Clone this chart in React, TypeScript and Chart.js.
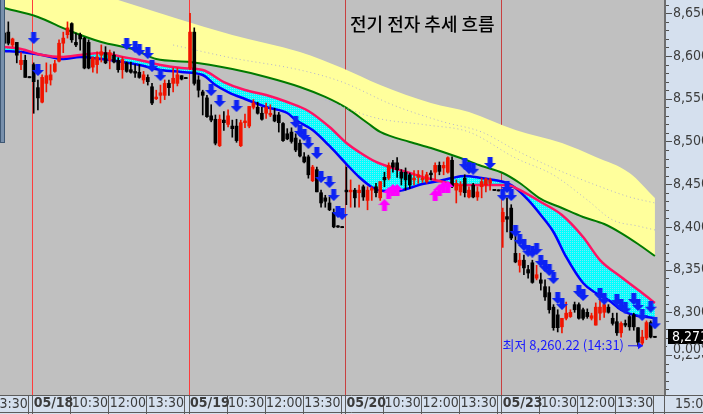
import React, { useEffect, useRef } from 'react';
import { Chart, registerables } from 'chart.js';

Chart.register(...registerables);

// ---------- text ----------
const TITLE = '전기 전자 추세 흐름';
const LOW_LABEL = '최저';
const LOW_TIME = '14:31';
const CURRENT_TIME = '15:01';
const CHANGE_PCT = '0.00%';

// ---------- categories ----------
const DAYS = ['05/17', '05/18', '05/19', '05/20', '05/23'];
const SESSION = ['09:00', '09:10', '09:20', '09:30', '09:40', '09:50', '10:00', '10:10', '10:20', '10:30', '10:40', '10:50',
  '11:00', '11:10', '11:20', '11:30', '11:40', '11:50', '12:00', '12:10', '12:20', '12:30', '12:40', '12:50',
  '13:00', '13:10', '13:20', '13:30', '13:40', '13:50', '14:00', '14:10', '14:20', '14:30', '14:40', '14:50', '15:00'];
const FIRST_DAY_BARS = 7;
const TIME_TICKS = ['10:30', '12:00', '13:30'];

// ---------- candles (10 min) ----------
const OPEN = [
  8627, 8628, 8613, 8616, 8590, 8595, 8575.5, 8590, 8563, 8546,
  8568, 8572, 8582, 8594, 8615, 8625, 8638, 8616, 8625, 8621,
  8616, 8587, 8590, 8601, 8604, 8595, 8601, 8595, 8584, 8592,
  8584, 8582, 8581, 8572, 8575, 8564, 8550, 8554, 8554, 8568,
  8568, 8568, 8577, 8574.5, 8586, 8628, 8572, 8558, 8551, 8530,
  8526, 8495, 8525, 8520, 8518, 8518, 8495, 8522, 8518, 8540,
  8540, 8533, 8533, 8531, 8531, 8531, 8521, 8509, 8511, 8504,
  8498, 8482, 8482, 8454, 8467, 8440, 8434, 8428, 8417, 8401,
  8400, 8443, 8441, 8443, 8440, 8447, 8431, 8443, 8447, 8434,
  8458, 8457, 8475, 8475, 8464, 8464, 8461, 8455, 8458, 8455,
  8453, 8463, 8464, 8472, 8469, 8464, 8478, 8443, 8441, 8457,
  8435, 8449, 8435, 8447, 8449, 8451, 8443.5, 8443, 8406, 8412,
  8422, 8369, 8355, 8361, 8350, 8358, 8340, 8338, 8330, 8323,
  8306, 8297, 8283, 8293, 8295, 8309, 8309, 8303, 8300, 8293,
  8285, 8299, 8300, 8306, 8293, 8289, 8276, 8287, 8295, 8297,
  8282, 8264, 8270, 8288, 8271.5,
];
const HIGH = [
  8632, 8640, 8621, 8616, 8604, 8601, 8576, 8592, 8572, 8578,
  8592, 8590, 8595, 8619, 8628, 8640, 8639, 8627, 8627, 8622,
  8619, 8599, 8605, 8613, 8611, 8607, 8605, 8598, 8599, 8593,
  8593, 8590, 8590, 8582, 8578, 8568, 8560, 8566, 8572, 8572,
  8586, 8586, 8577, 8575, 8650, 8633, 8577, 8560, 8554, 8543,
  8531, 8531, 8535, 8537, 8525, 8526, 8525, 8532, 8541, 8549,
  8546, 8540, 8545, 8543, 8539, 8534, 8522, 8515, 8516, 8509,
  8502, 8487, 8484, 8472, 8470, 8443, 8437, 8435, 8421, 8401.5,
  8400.5, 8470, 8455, 8445, 8449, 8449, 8447, 8447, 8451, 8453,
  8464, 8475, 8478, 8481, 8467, 8469, 8463, 8466, 8466, 8466,
  8464, 8466, 8475, 8476, 8476, 8482, 8482, 8455, 8453, 8461,
  8447, 8451, 8447, 8457, 8457, 8457, 8444, 8443.5, 8422, 8434,
  8426, 8390, 8369, 8367, 8355, 8361, 8355, 8346, 8338, 8330,
  8309, 8303, 8293, 8312, 8303, 8312, 8311, 8305, 8304, 8299,
  8311, 8314, 8312, 8309, 8299, 8299, 8289, 8291, 8297, 8299,
  8282, 8279, 8290, 8290, 8272,
];
const LOW = [
  8613, 8613, 8611, 8592, 8584, 8575, 8574.5, 8533, 8537, 8545,
  8558, 8566, 8581, 8593, 8604, 8621, 8616, 8611, 8607, 8585,
  8585, 8581, 8580, 8593, 8591, 8585, 8592, 8581, 8574, 8581,
  8580, 8575, 8574, 8568, 8566, 8543, 8549, 8545, 8549, 8554,
  8558, 8565, 8572, 8574, 8584, 8566, 8552, 8531, 8528, 8523,
  8496, 8494, 8513, 8517, 8505, 8499, 8494, 8516, 8516, 8538,
  8532, 8525, 8527, 8529, 8523, 8511, 8500, 8502, 8498, 8488,
  8482, 8475, 8457, 8453, 8441, 8423, 8423, 8419, 8399, 8399.5,
  8399, 8426, 8423, 8423, 8423, 8431, 8420, 8431, 8435, 8431,
  8447, 8455, 8464, 8458, 8449, 8443, 8445, 8449, 8451, 8452,
  8451, 8455, 8455, 8461, 8461, 8463, 8446, 8428, 8437, 8435,
  8434, 8434, 8431, 8434, 8441, 8443, 8442.5, 8442, 8376, 8394,
  8385, 8358, 8347, 8344, 8340, 8334, 8338, 8326, 8314, 8299,
  8279, 8277, 8276, 8291, 8294, 8300, 8292, 8291, 8293, 8291,
  8285, 8291, 8294, 8299, 8285, 8273, 8271, 8283, 8279, 8279,
  8260.22, 8262, 8268, 8270, 8270.5,
];
const CLOSE = [
  8615, 8615, 8620, 8601, 8595, 8575, 8575, 8570, 8551, 8575,
  8577, 8578, 8591, 8615, 8621, 8633, 8619, 8613, 8620, 8586,
  8586, 8598, 8599, 8605, 8592, 8604, 8593, 8584, 8596, 8582,
  8581, 8580, 8575, 8578, 8570, 8545, 8552, 8557, 8568, 8563,
  8574, 8578, 8573, 8574, 8628, 8568, 8560, 8554, 8529, 8525,
  8498, 8526, 8522, 8530, 8515, 8501, 8522, 8524, 8541, 8545,
  8533, 8526, 8540, 8533, 8524, 8522, 8501, 8503, 8500, 8490,
  8483, 8476, 8461, 8470, 8441, 8428, 8430, 8420, 8400, 8400,
  8399.5, 8441, 8443, 8434, 8443, 8435, 8443, 8445, 8440, 8453,
  8455, 8472, 8470, 8467, 8457, 8455, 8449, 8457, 8461, 8457,
  8461, 8461, 8472, 8465, 8472, 8481, 8447, 8451, 8449, 8440,
  8443, 8435, 8441, 8453, 8456, 8455, 8443, 8442.5, 8417, 8409,
  8387, 8359, 8361, 8352, 8346, 8335, 8344, 8334, 8318, 8303,
  8282, 8282, 8293, 8299, 8300, 8303, 8293, 8293, 8295, 8296,
  8306, 8306, 8309, 8300, 8287, 8276, 8287, 8285, 8283, 8283,
  8265, 8271, 8288, 8271, 8271.05,
];

// ---------- moving averages  [bar index, value] ----------
const PINK_MA = [
  [0, 8610.6], [4, 8608.2], [9, 8601.2], [14, 8598.9], [18, 8601.2], [23, 8603.6], [28, 8598.9], [32, 8595.4],
  [37, 8589.5], [42, 8586.0], [47, 8583.7], [52, 8569.6], [57, 8560.2], [62, 8554.4], [67, 8546.2], [72, 8535.7],
  [77, 8516.9], [81, 8498.2], [84, 8487.7], [88, 8476.0], [92, 8468.9], [96, 8463.1], [100, 8457.2], [104, 8452.6],
  [108, 8449.0], [113, 8449.0], [118, 8449.0], [120, 8447.9], [122, 8443.2], [127, 8429.1], [132, 8413.9],
  [137, 8388.2], [141, 8361.2], [146, 8341.4], [151, 8322.6], [154, 8310.9],
];
const BLUE_MA = [
  [0, 8605.9], [4, 8604.7], [9, 8601.2], [14, 8596.5], [18, 8598.9], [23, 8596.5], [28, 8593.0], [32, 8589.5],
  [37, 8583.7], [42, 8581.3], [47, 8577.8], [50, 8566.1], [53, 8557.9], [57, 8549.7], [62, 8540.3], [67, 8533.3],
  [69, 8525.1], [73, 8513.4], [77, 8494.7], [81, 8473.6], [84, 8458.4], [87, 8446.7], [90, 8442.0], [93, 8442.0],
  [96, 8445.5], [99, 8450.2], [103, 8453.7], [106, 8457.2], [109, 8459.6], [113, 8457.2], [116, 8454.9],
  [119, 8451.4], [121, 8445.5], [124, 8431.5], [127, 8413.9], [130, 8394.0], [133, 8364.8], [137, 8334.3],
  [140, 8322.6], [143, 8314.4], [146, 8302.7], [149, 8296.9], [152, 8294.5], [154, 8293.4],
];
const GREEN_MA = [
  [0, 8656.2], [8, 8645.7], [15, 8630.5], [23, 8616.4], [31, 8607.1], [36, 8596.5], [44, 8593.0], [54, 8584.8],
  [62, 8575.5], [70, 8563.8], [76, 8552.1], [81, 8539.2], [86, 8521.6], [89, 8511.1], [96, 8499.4], [101, 8492.4],
  [108, 8480.6], [113, 8471.3], [118, 8463.1], [122, 8451.4], [127, 8432.7], [132, 8422.1], [137, 8411.6],
  [142, 8403.4], [146, 8392.8], [150, 8380.0], [154, 8365.9],
];
const BAND_TOP = [
  [0, 8706.6], [27, 8665.6], [54, 8624.6], [70, 8604.7], [80, 8586.0], [89, 8566.1], [101, 8545.0], [110, 8534.5],
  [121, 8513.4], [132, 8498.2], [140, 8481.8], [148, 8463.1], [154, 8433.8],
];
const DOT_MA1 = [
  [40, 8612.9], [54, 8597.7], [70, 8583.7], [80, 8569.6], [92, 8542.7], [104, 8522.8], [113, 8511.1],
  [121, 8490.0], [130, 8468.9], [140, 8449.0], [148, 8435.0], [154, 8428.0],
];
const DOT_MA2 = [
  [76, 8548.5], [88, 8527.5], [100, 8519.3], [110, 8511.1], [121, 8480.6], [130, 8460.7], [138, 8431.5],
  [144, 8408.1], [150, 8401.0], [154, 8396.4],
];

// ---------- signals [bar index, price] ----------
const SELL_SIGNALS = [
  [7, 8621.1], [8, 8583.7], [29, 8614.1], [31, 8610.6], [32, 8607.1], [34, 8603.6], [35, 8588.3], [37, 8577.8],
  [49, 8560.2], [51, 8547.4], [55, 8541.5],
  [69, 8522.8], [70, 8512.3], [71, 8507.6], [72, 8498.2], [74, 8486.5], [75, 8458.4], [77, 8452.6], [78, 8437.3],
  [79, 8417.4], [80, 8415.1],
  [109, 8473.6], [110, 8468.9], [111, 8468.0], [115, 8474.8],
  [118, 8437.3], [119, 8446.7], [120, 8437.3], [121, 8395.2], [122, 8384.7], [123, 8378.8], [124, 8372.0],
  [125, 8371.0], [126, 8374.1], [127, 8360.1], [128, 8354.2], [129, 8349.5], [130, 8340.2], [131, 8316.8],
  [132, 8309.7], [136, 8325.0], [137, 8320.3], [141, 8321.4], [142, 8315.6], [145, 8314.4], [146, 8308.6],
  [147, 8304.7], [149, 8315.6], [150, 8308.6], [151, 8296.9], [153, 8306.6], [154, 8287.1],
];
const BUY_SIGNALS = [
  [90, 8425.6], [91, 8439.7], [92, 8443.2], [93, 8443.2], [102, 8437.3], [103, 8443.2], [104, 8446.7], [105, 8446.7],
];

const Y_MIN = 8203.2;
const Y_MAX = 8665.6;
const X_MIN = -0.97;
const X_MAX = 156.15;

// ---------- styles ----------
const NARROW = '"Liberation Sans Narrow", "Arial Narrow", "DejaVu Sans Condensed", sans-serif';
const NARROW_KR = '"Liberation Sans Narrow", "Noto Sans CJK KR", sans-serif';
const KR = '"Noto Sans CJK KR", "Noto Sans", sans-serif';
const PLOT_BG = '#c0c0c0';
const AXIS_BG = '#d5e0ee';
const BOX_LINE = '#5c5c5c';
const TEXT = '#3c3c3c';
const UP = '#f01400';
const DOWN = '#000000';

// ---------- derived tables ----------
const LABELS: string[] = [];
DAYS.forEach((d, k) => {
  const times = k === 0 ? SESSION.slice(SESSION.length - FIRST_DAY_BARS) : SESSION;
  times.forEach((t) => LABELS.push(d + ' ' + t));
});
const dayStart = (k: number) => FIRST_DAY_BARS - SESSION.length + k * SESSION.length;
const TICKS: number[] = [];
const OFF_TICKS: number[] = [];
DAYS.forEach((_, k) => {
  [SESSION[0], ...TIME_TICKS, SESSION[SESSION.length - 1]].forEach((t) => {
    const i = dayStart(k) + SESSION.indexOf(t);
    if (i >= 0 && i < LABELS.length) TICKS.push(i);
    else if (i < 0 && i > -6) OFF_TICKS.push(i);
  });
});
const DAY_STARTS = DAYS.map((_, k) => dayStart(k)).filter((i) => i >= 0);

function tickText(i: number): string {
  const l = LABELS[i];
  if (l) {
    const [d, t] = l.split(' ');
    if (t === SESSION[0]) return d;
    if (TIME_TICKS.includes(t)) return t;
    return '';
  }
  const t = SESSION[i - dayStart(0)];
  return t && TIME_TICKS.includes(t) ? t : '';
}
function isDayTick(i: number) {
  const l = LABELS[i];
  return !!l && l.split(' ')[1] === SESSION[0];
}
const fmt2 = (v: number) => v.toLocaleString('en-US', { minimumFractionDigits: 2, maximumFractionDigits: 2 });
const pts = (arr: number[][]) => arr.map(([x, y]) => ({ x, y }));

function makeArrow(color: string, down: boolean) {
  const c = document.createElement('canvas');
  c.width = 12;
  c.height = 12;
  const g = c.getContext('2d')!;
  g.fillStyle = color;
  g.beginPath();
  const shape = [[3.5, 0], [8.5, 0], [8.5, 6], [12, 6], [6, 12], [0, 6], [3.5, 6]];
  shape.forEach(([x, y], k) => {
    const yy = down ? y : 12 - y;
    if (k) g.lineTo(x, yy);
    else g.moveTo(x, yy);
  });
  g.closePath();
  g.fill();
  return c;
}
function makeDither(a: string, b: string) {
  const c = document.createElement('canvas');
  c.width = 2;
  c.height = 2;
  const g = c.getContext('2d')!;
  g.fillStyle = a;
  g.fillRect(0, 0, 2, 2);
  g.fillStyle = b;
  g.fillRect(0, 0, 1, 1);
  return g.createPattern(c, 'repeat')!;
}

function vline(ctx: any, x: number, top: number, bottom: number, color: string) {
  ctx.strokeStyle = color;
  ctx.lineWidth = 1;
  ctx.beginPath();
  ctx.moveTo(x, top);
  ctx.lineTo(x, bottom);
  ctx.stroke();
}

const decor = {
  id: 'decor',
  beforeDraw(chart: any) {
    const { ctx, chartArea: a, width: W, height: H } = chart;
    const xs = chart.scales.x;
    const ys = chart.scales.y;
    ctx.save();
    ctx.fillStyle = AXIS_BG;
    ctx.fillRect(0, 0, W, H);
    ctx.fillStyle = PLOT_BG;
    ctx.fillRect(a.left, a.top, a.right - a.left, a.bottom - a.top);
    // bottom time band
    ctx.strokeStyle = BOX_LINE;
    ctx.lineWidth = 1;
    ctx.beginPath();
    ctx.moveTo(0, a.bottom + 0.5);
    ctx.lineTo(W, a.bottom + 0.5);
    ctx.moveTo(0, H - 1.5);
    ctx.lineTo(W, H - 1.5);
    [...OFF_TICKS, ...TICKS].forEach((i) => {
      const x = Math.round(xs.getPixelForValue(i) - 1.5) + 0.5;
      ctx.moveTo(x, a.bottom);
      ctx.lineTo(x, H);
    });
    ctx.moveTo(a.right + 0.5, a.bottom);
    ctx.lineTo(a.right + 0.5, H);
    ctx.stroke();
    // right axis line + ticks
    ctx.strokeStyle = '#6e6e6e';
    ctx.lineWidth = 2;
    ctx.beginPath();
    ctx.moveTo(a.right + 1, 0);
    ctx.lineTo(a.right + 1, a.bottom);
    ctx.stroke();
    ctx.lineWidth = 1;
    ctx.strokeStyle = '#505050';
    ctx.beginPath();
    ys.ticks.forEach((t: any) => {
      const y = Math.round(ys.getPixelForValue(t.value)) + 0.5;
      const major = Math.abs(t.value / 50 - Math.round(t.value / 50)) < 1e-6;
      ctx.moveTo(a.right + 2, y);
      ctx.lineTo(a.right + (major ? 8 : 5), y);
    });
    ctx.stroke();
    ctx.restore();
  },
  beforeDatasetsDraw(chart: any) {
    const { ctx, chartArea: a } = chart;
    const xs = chart.scales.x;
    ctx.save();
    DAY_STARTS.slice(2).forEach((i) => {
      vline(ctx, Math.round(xs.getPixelForValue(i) - 1.5) + 0.5, a.top, a.bottom, '#c84040');
    });
    ctx.restore();
  },
  afterDatasetDraw(chart: any, args: any) {
    if (args.index !== 0) return;
    const { ctx, chartArea: a } = chart;
    const xs = chart.scales.x;
    ctx.save();
    DAY_STARTS.slice(0, 2).forEach((i) => {
      vline(ctx, Math.round(xs.getPixelForValue(i) - 1.5) + 0.5, a.top, a.bottom, '#ff3c3c');
    });
    ctx.restore();
  },
  afterDraw(chart: any) {
    const { ctx, chartArea: a, width: W } = chart;
    const xs = chart.scales.x;
    const ys = chart.scales.y;
    ctx.save();
    // side handle
    ctx.fillStyle = '#7890ac';
    ctx.fillRect(0, 0, 5, 143);
    ctx.strokeStyle = '#3f5874';
    ctx.lineWidth = 1;
    ctx.strokeRect(0.5, -1, 4, 143.5);
    // title
    ctx.fillStyle = '#000';
    ctx.font = '500 18px ' + KR;
    ctx.textBaseline = 'middle';
    ctx.textAlign = 'left';
    ctx.fillText(TITLE, 350, 24);
    // off-screen time label
    ctx.fillStyle = TEXT;
    ctx.font = '14px ' + NARROW;
    OFF_TICKS.forEach((i) => {
      const t = tickText(i);
      if (t) ctx.fillText(t, xs.getPixelForValue(i), a.bottom + 9);
    });
    // current time
    ctx.fillText(CURRENT_TIME, a.right + 11, a.bottom + 9);
    // low annotation
    const lowVal = Math.min(...LOW);
    const lowIdx = LOW.indexOf(lowVal);
    const tipX = xs.getPixelForValue(lowIdx) + 5;
    const ty = ys.getPixelForValue(lowVal) - 1;
    ctx.strokeStyle = '#1a1aff';
    ctx.fillStyle = '#1a1aff';
    ctx.lineWidth = 1;
    ctx.beginPath();
    ctx.moveTo(tipX - 15, ty + 0.5);
    ctx.lineTo(tipX, ty + 0.5);
    ctx.stroke();
    ctx.beginPath();
    ctx.moveTo(tipX, ty + 0.5);
    ctx.lineTo(tipX - 5, ty - 3);
    ctx.lineTo(tipX - 5, ty + 4);
    ctx.closePath();
    ctx.fill();
    ctx.font = '13px ' + NARROW_KR;
    ctx.textAlign = 'right';
    ctx.fillText(LOW_LABEL + ' ' + fmt2(lowVal) + ' (' + LOW_TIME + ')', tipX - 19, ty);
    // last price box
    const last = CLOSE[CLOSE.length - 1];
    const py = ys.getPixelForValue(last);
    ctx.fillStyle = '#000';
    ctx.fillRect(a.right + 4, py - 8, W - a.right - 4, 15);
    ctx.fillStyle = '#fff';
    ctx.textAlign = 'left';
    ctx.font = '14px ' + NARROW;
    ctx.fillText(fmt2(last), a.right + 8, py);
    ctx.fillStyle = AXIS_BG;
    ctx.fillRect(a.right + 3, py + 7, W - a.right - 3, 11);
    ctx.fillStyle = TEXT;
    ctx.fillText(CHANGE_PCT, a.right + 9, py + 12);
    ctx.restore();
  },
};

export default function App() {
  const ref = useRef<HTMLCanvasElement>(null);
  useEffect(() => {
    document.body.style.margin = '0';
    const sellImg = makeArrow('#0c22f4', true);
    const buyImg = makeArrow('#ff00ff', false);
    const cyanFill = makeDither('#00ffff', '#7ee6f2');

    const wicks = OPEN.map((_, i) => ({ x: i, y: [LOW[i], HIGH[i]] }));
    const bodies = OPEN.map((o, i) => {
      let lo = Math.min(o, CLOSE[i]);
      let hi = Math.max(o, CLOSE[i]);
      if (hi - lo < 1.4) {
        const m = (hi + lo) / 2;
        lo = m - 0.7;
        hi = m + 0.7;
      }
      return { x: i, y: [lo, hi] };
    });
    const colors = OPEN.map((o, i) => (CLOSE[i] >= o ? UP : DOWN));

    const lineBase = { type: 'line', pointRadius: 0, cubicInterpolationMode: 'monotone' };
    const chart = new Chart(ref.current!, {
      type: 'bar',
      data: {
        datasets: [
          { ...lineBase, data: pts(BAND_TOP), borderWidth: 0, borderColor: 'rgba(0,0,0,0)',
            fill: { target: '+1', above: '#ffff9c', below: '#ffff9c' }, order: 10 } as any,
          { ...lineBase, data: pts(GREEN_MA), borderColor: '#007a00', borderWidth: 2, fill: false, order: 9 } as any,
          { ...lineBase, data: pts(DOT_MA1), borderColor: '#b4b4d0', borderWidth: 1, borderDash: [1, 3], fill: false, order: 8 } as any,
          { ...lineBase, data: pts(DOT_MA2), borderColor: '#b4b4d0', borderWidth: 1, borderDash: [1, 3], fill: false, order: 8 } as any,
          { ...lineBase, data: pts(BLUE_MA), borderColor: '#0000ff', borderWidth: 2.5,
            fill: { target: '+1', above: cyanFill, below: cyanFill }, order: 7 } as any,
          { ...lineBase, data: pts(PINK_MA), borderColor: '#ff1464', borderWidth: 2.5, fill: false, order: 6 } as any,
          { type: 'bar', data: wicks, backgroundColor: colors, barThickness: 1, grouped: false, borderWidth: 0, order: 5 } as any,
          { type: 'bar', data: bodies, backgroundColor: colors, barThickness: 3, grouped: false, borderWidth: 0, order: 4 } as any,
          { type: 'scatter', data: pts(SELL_SIGNALS), pointStyle: sellImg, pointRadius: 1, order: 2 } as any,
          { type: 'scatter', data: pts(BUY_SIGNALS), pointStyle: buyImg, pointRadius: 1, order: 1 } as any,
        ],
      },
      options: {
        responsive: false,
        animation: false,
        events: [],
        layout: { padding: 0, autoPadding: false },
        plugins: { legend: { display: false }, tooltip: { enabled: false } },
        scales: {
          x: {
            type: 'linear',
            position: 'bottom',
            min: X_MIN,
            max: X_MAX,
            offset: false,
            grid: { display: false, drawTicks: false },
            border: { display: false },
            afterBuildTicks: (s: any) => { s.ticks = TICKS.map((v) => ({ value: v })); },
            afterFit: (s: any) => { s.height = 19; s.paddingLeft = 0; s.paddingRight = 0; },
            ticks: {
              autoSkip: false,
              maxRotation: 0,
              align: 'start',
              padding: 0,
              color: TEXT,
              font: (c: any) => ({ family: NARROW, size: 14, weight: c.tick && isDayTick(c.tick.value) ? 'bold' : 'normal' }),
              callback: (v: any) => tickText(Math.round(Number(v))),
            },
          },
          y: {
            type: 'linear',
            position: 'right',
            min: Y_MIN,
            max: Y_MAX,
            grid: { display: false, drawTicks: false },
            border: { display: false },
            afterFit: (s: any) => { s.width = 39; s.paddingTop = 0; s.paddingBottom = 0; },
            ticks: {
              stepSize: 10,
              includeBounds: false,
              autoSkip: false,
              padding: 9,
              color: TEXT,
              font: { family: NARROW, size: 14 },
              callback: (v: any) => (Math.abs(v / 50 - Math.round(v / 50)) < 1e-6 ? fmt2(Number(v)) : ''),
            },
          },
        },
      } as any,
      plugins: [decor as any],
    });
    return () => chart.destroy();
  }, []);
  return (
    <div style={{ width: 703, height: 414 }}>
      <canvas ref={ref} width={703} height={414} style={{ display: 'block', width: 703, height: 414 }} />
    </div>
  );
}
